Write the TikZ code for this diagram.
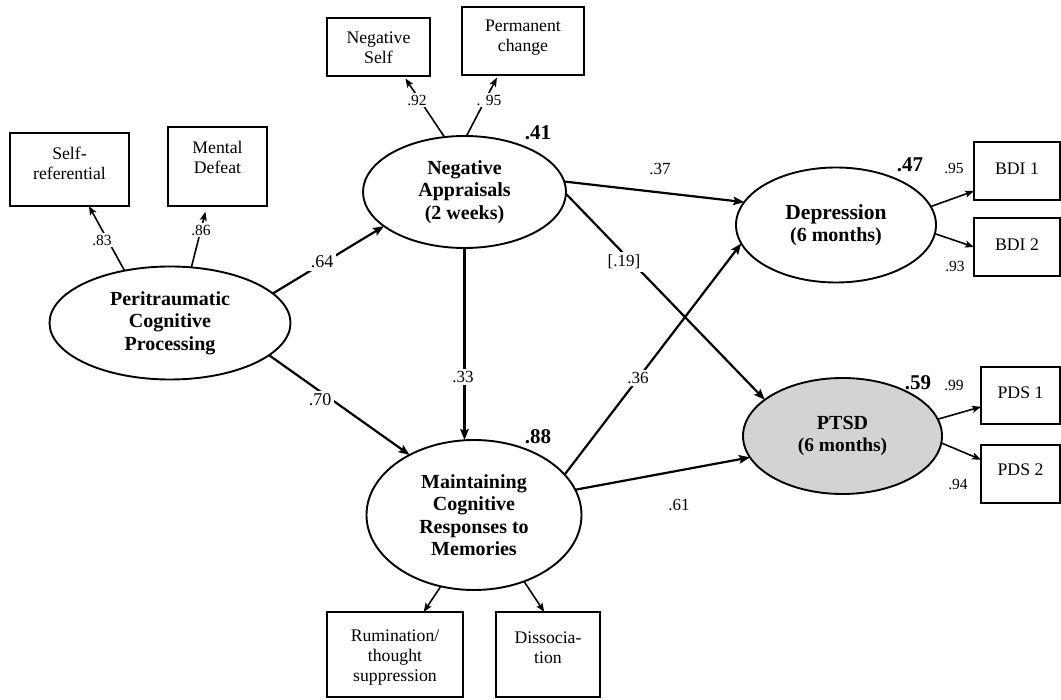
\documentclass[tikz,border=0pt]{standalone}
\usepackage{fontspec}
\setmainfont{Liberation Serif}
\usetikzlibrary{shapes.geometric,arrows.meta}
\definecolor{ptsdgray}{RGB}{211,211,211}
\begin{document}
\begin{tikzpicture}[x=1pt,y=-1pt,
  ell/.style={ellipse, draw, line width=1.9pt, inner sep=0pt, outer sep=0pt, align=center, font=\fontsize{20}{22.5}\selectfont\bfseries},
  obox/.style={rectangle, draw, line width=1.5pt, inner sep=0pt, outer sep=0pt},
  btext/.style={align=center, inner sep=0pt, font=\fontsize{17.7}{20}\selectfont},
  sarrow/.style={line width=2.2pt, -{Stealth[length=11pt,width=8.5pt,inset=2pt]}},
  larrow/.style={line width=1.6pt, -{Stealth[length=9pt,width=7pt,inset=2pt]}},
  plab/.style={fill=white, inner sep=2.5pt, font=\fontsize{17}{17}\selectfont},
  llab/.style={fill=white, inner sep=2pt, font=\fontsize{15.5}{15.5}\selectfont},
  rsq/.style={inner sep=0pt, font=\fontsize{21}{21}\selectfont\bfseries},
]
\useasboundingbox (0,0) rectangle (1061,700);

% latent variables
\node[ell, minimum width=241pt, minimum height=113pt] (peri) at (170,323) {Peritraumatic\\Cognitive\\Processing};
\node[ell, minimum width=203pt, minimum height=112pt] (nap) at (464.5,192) {Negative\\Appraisals\\(2 weeks)};
\node[ell, minimum width=200pt, minimum height=115pt] (dep) at (836,225) {\fontsize{21.5}{24}\selectfont Depression\\\fontsize{20}{22}\selectfont (6 months)};
\node[ell, fill=ptsdgray, minimum width=199pt, minimum height=116pt] (ptsd) at (842.5,436) {PTSD\\\fontsize{19.5}{23}\selectfont (6 months)};
\node[ell, minimum width=215pt, minimum height=150pt] (mcr) at (474,515) {Maintaining\\Cognitive\\Responses to\\Memories};

% indicator boxes
\node[obox, minimum width=119pt, minimum height=73pt] (self) at (69.5,169.5) {};
\node[btext] (selft) at (69.5,163) {Self-\\referential};
\node[obox, minimum width=99pt, minimum height=79pt] (mental) at (217.5,166.5) {};
\node[btext] (mentalt) at (217.5,157.5) {Mental\\Defeat};
\node[obox, minimum width=103pt, minimum height=58pt] (negself) at (378.5,47) {};
\node[btext] (negselft) at (378.5,47.5) {Negative\\Self};
\node[obox, minimum width=122pt, minimum height=68pt] (perm) at (523,41) {};
\node[btext] (permt) at (523,37.5) {Permanent\\change};
\node[obox, minimum width=86pt, minimum height=58pt] (bdi1) at (1017,171) {};
\node[btext] (bdi1t) at (1017,169) {BDI 1};
\node[obox, minimum width=86pt, minimum height=58pt] (bdi2) at (1017,247) {};
\node[btext] (bdi2t) at (1017,245) {BDI 2};
\node[obox, minimum width=79pt, minimum height=57pt] (pds1) at (1020.5,395.5) {};
\node[btext] (pds1t) at (1020.5,393) {PDS 1};
\node[obox, minimum width=79pt, minimum height=58pt] (pds2) at (1020.5,474) {};
\node[btext] (pds2t) at (1020.5,470) {PDS 2};
\node[obox, minimum width=136pt, minimum height=85pt] (rum) at (395,654.5) {};
\node[btext] (rumt) at (395,658) {Rumination/\\thought\\suppression};
\node[obox, minimum width=104pt, minimum height=85pt] (dis) at (548,654.5) {};
\node[btext] (dist) at (548,648) {Dissocia-\\tion};

% loadings
\draw[larrow] (peri.131) -- (self.-62);
\draw[larrow, shorten >=6pt] (peri.69) -- (mental.-105);
\draw[larrow, shorten >=3pt] (nap.110) -- (negself.-49);
\draw[larrow, shorten >=3pt] (nap.88) -- (perm.-126);
\draw[larrow] (dep.11) -- (bdi1.205);
\draw[larrow] (dep.-5) -- (bdi2.180);
\draw[larrow] (ptsd.10) -- (pds1.196);
\draw[larrow] (ptsd.-4) -- (pds2.160);
\draw[larrow] (mcr.245) -- (rum.56);
\draw[larrow] (mcr.307) -- (dis.95);

% structural paths
\draw[sarrow] (peri.16) -- (nap.203);
\draw[sarrow] (peri.-18) -- (mcr.137);
\draw[sarrow] (nap.south) -- (nap.south |- mcr.north);
\draw[sarrow] (nap.6) -- (dep.166);
\draw[sarrow] (nap.-1) -- (ptsd.155);
\draw[sarrow] (mcr.24) -- (dep.191);
\draw[sarrow] (mcr.14) -- (ptsd.193);

% path labels
\node[plab, font=\fontsize{18}{18}\selectfont] (l64) at (322,262) {.64};
\node[plab, font=\fontsize{18}{18}\selectfont] (l70) at (320,400) {.70};
\node[plab] (l33) at (463,377) {.33};
\node[plab] (l19) at (624,262) {[.19]};
\node[plab] (l36) at (638,378) {.36};
\node[plab, fill=none] (l37) at (660,169) {.37};
\node[plab, fill=none] (l61) at (679,505) {.61};

% loading labels
\node[llab] (l83) at (102,240) {.83};
\node[llab] (l86) at (201,230) {.86};
\node[llab] (l92) at (417,100) {.92};
\node[llab] (l95a) at (489,100) {. 95};
\node[llab, fill=none] (l95) at (954,168) {.95};
\node[llab, fill=none] (l93) at (955,266) {.93};
\node[llab, fill=none] (l99) at (954,385) {.99};
\node[llab, fill=none] (l94) at (958,484) {.94};

% R-squared
\node[rsq] (r41) at (538,133) {.41};
\node[rsq] (r47) at (910,165) {.47};
\node[rsq] (r59) at (918,383) {.59};
\node[rsq] (r88) at (538,437) {.88};
\end{tikzpicture}
\end{document}
